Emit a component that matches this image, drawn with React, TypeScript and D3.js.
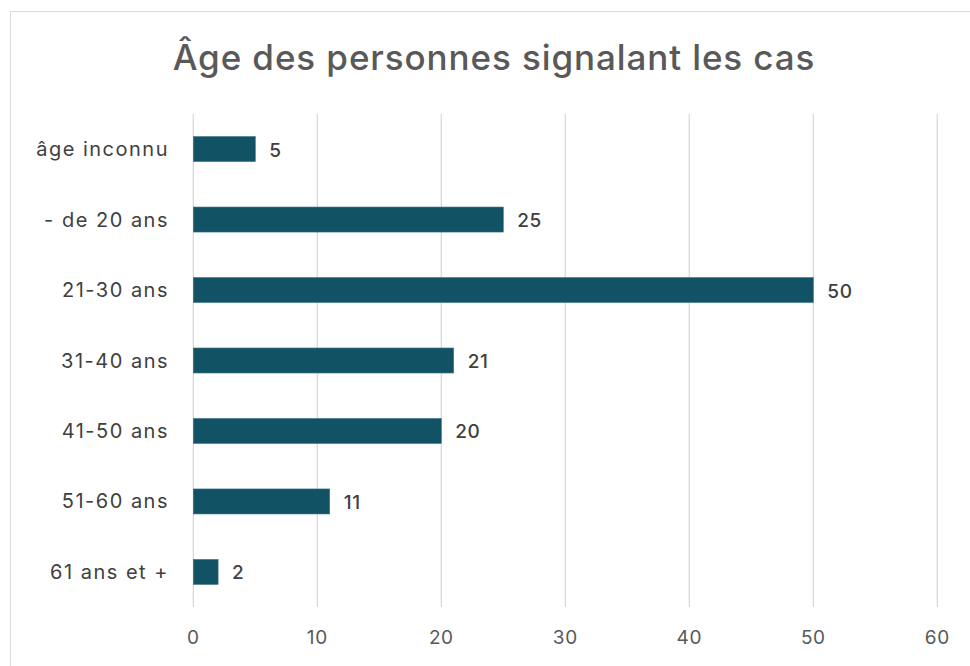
import * as d3 from 'd3'

const categories = ['âge inconnu', '- de 20 ans', '21-30 ans', '31-40 ans', '41-50 ans', '51-60 ans', '61 ans et +']
const values = [5, 25, 50, 21, 20, 11, 2]
const xTicks = [0, 10, 20, 30, 40, 50, 60]

const W = 970
const H = 666
const FONT = 'Inter, "Noto Sans", sans-serif'

export default function App() {
  const x = d3.scaleLinear().domain([0, 60]).range([193.3, 937.3])
  const y = d3.scaleBand<string>().domain(categories).range([114, 607]).paddingInner(0.645).paddingOuter(0.32)

  return (
    <>
      <style>{'body{margin:0}'}</style>
      <svg width={W} height={H} style={{ display: 'block', background: '#fff' }}>
        <rect x={10.5} y={11.5} width={W + 10} height={H + 10} fill="#fff" stroke="#d9d9d9" />
        <text x={494} y={57} textAnchor="middle" dominantBaseline="central" fontFamily={FONT} fontSize={35} fontWeight={500} letterSpacing={0.9} fill="#595959">
          Âge des personnes signalant les cas
        </text>
        {xTicks.map((t) => (
          <g key={t}>
            <line x1={x(t)} x2={x(t)} y1={114} y2={607} stroke="#d9d9d9" strokeWidth={1.3} />
            <text x={x(t)} y={637} textAnchor="middle" dominantBaseline="central" fontFamily={FONT} fontSize={19} letterSpacing={0.6} fill="#595959">
              {t}
            </text>
          </g>
        ))}
        {categories.map((c, i) => (
          <g key={c}>
            <rect x={x(0)} y={y(c)} width={x(values[i]) - x(0)} height={y.bandwidth()} fill="#115264" stroke="#3f7686" strokeWidth={0.6} />
            <text x={169} y={(y(c) ?? 0) + y.bandwidth() / 2} textAnchor="end" dominantBaseline="central" fontFamily={FONT} fontSize={20} letterSpacing={1.5} fill="#404040">
              {c}
            </text>
            <text x={x(values[i]) + 14} y={(y(c) ?? 0) + y.bandwidth() / 2 + 1} textAnchor="start" dominantBaseline="central" fontFamily={FONT} fontSize={19} fontWeight={500} letterSpacing={0.6} fill="#404040">
              {values[i]}
            </text>
          </g>
        ))}
      </svg>
    </>
  )
}
